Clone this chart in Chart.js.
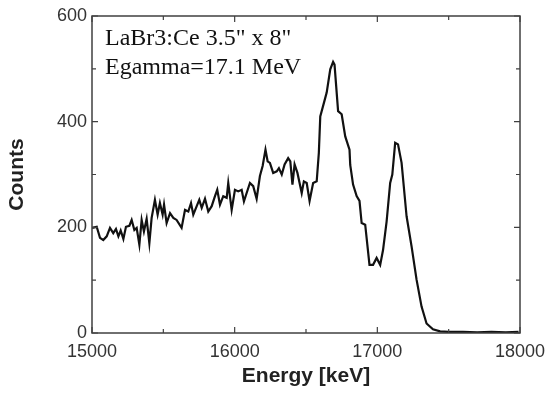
<!DOCTYPE html>
<html>
<head>
<meta charset="utf-8">
<script src="https://cdn.jsdelivr.net/npm/chart.js@4.4.1/dist/chart.umd.min.js"></script>
<style>
  html, body { margin: 0; padding: 0; background: #fff; }
  #wrap { width: 547px; height: 395px; }
</style>
</head>
<body>
<div id="wrap"><canvas id="chart-spectrum" width="547" height="395"></canvas></div>
<script>
// --- 1. DATA ---
const energies = [
  15000, 15033, 15056, 15079, 15103, 15126, 15149, 15168, 15185, 15201,
  15220, 15238, 15262, 15278, 15297, 15313, 15332, 15348, 15364, 15383,
  15402, 15418, 15441, 15460, 15476, 15495, 15505, 15523, 15547, 15570,
  15593, 15628, 15652, 15675, 15694, 15710, 15734, 15752, 15769, 15792,
  15815, 15839, 15862, 15878, 15897, 15920, 15944, 15955, 15979, 16002,
  16025, 16049, 16065, 16084, 16107, 16130, 16154, 16177, 16196, 16216,
  16231, 16247, 16270, 16295, 16310, 16330, 16350, 16375, 16390, 16405,
  16420, 16440, 16470, 16485, 16505, 16525, 16550, 16575, 16590, 16600,
  16635, 16645, 16670, 16690, 16700, 16725, 16750, 16775, 16805, 16810,
  16830, 16855, 16875, 16890, 16915, 16945, 16970, 16995, 17020, 17040,
  17065, 17090, 17105, 17125, 17145, 17170, 17205, 17240, 17275, 17310,
  17345, 17390, 17440, 17500, 17600, 17700, 17800, 17900, 17990
];
const counts = [
  199, 201, 180, 176, 183, 199, 189, 197, 183, 194,
  178, 201, 203, 214, 195, 199, 167, 214, 192, 216,
  170, 218, 252, 224, 246, 224, 243, 208, 227, 218,
  214, 199, 233, 230, 246, 224, 240, 252, 237, 254,
  230, 240, 259, 271, 243, 259, 256, 284, 233, 271,
  268, 271, 249, 265, 284, 278, 254, 297, 316, 347,
  325, 322, 303, 306, 312, 300, 319, 331, 325, 281,
  319, 303, 265, 287, 284, 250, 284, 287, 341, 410,
  445, 455, 499, 513, 508, 420, 414, 372, 347, 318,
  281, 259, 250, 208, 205, 129, 129, 142, 129, 157,
  211, 284, 300, 360, 357, 322, 221, 164, 101, 50,
  18, 7, 3, 2, 2, 1, 2, 1, 2
];
const xTicks = [15000, 16000, 17000, 18000];
const xMinorTicks = [15500, 16500, 17500];
const yTicks = [0, 200, 400, 600];
const yMinorTicks = [100, 300, 500];
const infoLines = ['LaBr3:Ce 3.5" x 8"', 'Egamma=17.1 MeV'];

// --- 2. STYLE ---
const sansFont = "'Liberation Sans', Arial, sans-serif";
const serifFont = "'Liberation Serif', 'Times New Roman', serif";
const axisColor = '#404040';

// --- 3. PLUGIN: box frame, inward ticks, info text ---
const framePlugin = {
  id: 'frame',
  afterDatasetsDraw(chart) {
    const { ctx, chartArea: a, scales: { x, y } } = chart;
    ctx.save();
    ctx.strokeStyle = axisColor;
    ctx.lineWidth = 1.5;
    ctx.strokeRect(a.left, a.top, a.right - a.left, a.bottom - a.top);

    ctx.lineWidth = 1.2;
    ctx.beginPath();
    const xMarks = xTicks.map(v => [v, 6]).concat(xMinorTicks.map(v => [v, 4]));
    xMarks.forEach(([v, len]) => {
      const px = x.getPixelForValue(v);
      ctx.moveTo(px, a.bottom); ctx.lineTo(px, a.bottom - len);
      ctx.moveTo(px, a.top); ctx.lineTo(px, a.top + len);
    });
    const yMarks = yTicks.map(v => [v, 6]).concat(yMinorTicks.map(v => [v, 4]));
    yMarks.forEach(([v, len]) => {
      const py = y.getPixelForValue(v);
      ctx.moveTo(a.left, py); ctx.lineTo(a.left + len, py);
      ctx.moveTo(a.right, py); ctx.lineTo(a.right - len, py);
    });
    ctx.stroke();

    ctx.fillStyle = '#111';
    ctx.font = '24px ' + serifFont;
    ctx.textAlign = 'left';
    ctx.textBaseline = 'alphabetic';
    infoLines.forEach((line, i) => {
      ctx.fillText(line, a.left + 13, a.top + 29 + i * 29);
    });
    ctx.restore();
  }
};

// --- 4. CHART ---
const ctxSpectrum = document.getElementById('chart-spectrum').getContext('2d');
new Chart(ctxSpectrum, {
  type: 'line',
  data: {
    datasets: [{
      data: energies.map((e, i) => ({ x: e, y: counts[i] })),
      borderColor: '#111',
      borderWidth: 2.2,
      pointRadius: 0,
      tension: 0,
      fill: false
    }]
  },
  options: {
    responsive: false,
    animation: false,
    layout: { padding: { top: 16, right: 27, left: 0, bottom: 0 } },
    plugins: { legend: { display: false }, tooltip: { enabled: false } },
    scales: {
      x: {
        type: 'linear',
        min: 15000,
        max: 18000,
        afterBuildTicks: s => { s.ticks = xTicks.map(v => ({ value: v })); },
        afterFit: s => {
          s.height = 62;
          s.paddingLeft = 0;
          s.paddingRight = 0;
        },
        ticks: {
          color: '#333',
          font: { family: sansFont, size: 18 },
          padding: 8,
          maxRotation: 0,
          autoSkip: false,
          callback: v => String(v)
        },
        grid: { display: false, drawTicks: false },
        border: { display: false },
        title: {
          display: true,
          text: 'Energy [keV]',
          color: '#222',
          font: { family: sansFont, size: 21, weight: 'bold' },
          padding: { top: 0, bottom: 6 }
        }
      },
      y: {
        min: 0,
        max: 600,
        afterBuildTicks: s => { s.ticks = yTicks.map(v => ({ value: v })); },
        afterFit: s => {
          s.width = 92;
          s.paddingTop = 0;
          s.paddingBottom = 0;
        },
        ticks: {
          color: '#333',
          font: { family: sansFont, size: 18 },
          padding: 5,
          callback: v => String(v)
        },
        grid: { display: false, drawTicks: false },
        border: { display: false },
        title: {
          display: true,
          text: 'Counts',
          color: '#222',
          font: { family: sansFont, size: 21, weight: 'bold' },
          padding: { top: 5, bottom: 0 }
        }
      }
    }
  },
  plugins: [framePlugin]
});
</script>
</body>
</html>
